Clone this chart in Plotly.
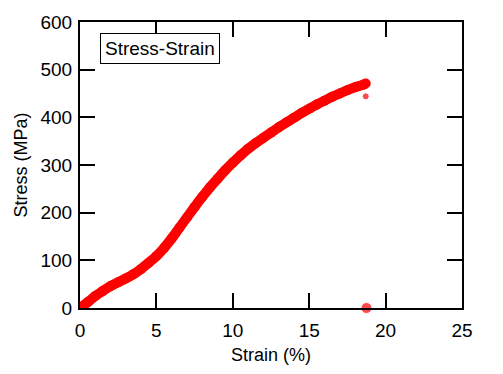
import plotly.graph_objects as go

strain = [0, 0.5, 1, 1.5, 2, 2.5, 3, 3.5, 4, 4.5, 5, 5.5, 6, 6.5, 7, 7.5, 8, 8.5, 9, 9.5,
          10, 10.5, 11, 11.5, 12, 12.5, 13, 13.5, 14, 14.5, 15, 15.5, 16, 16.5, 17, 17.5,
          18, 18.5, 18.7]
stress = [0, 12, 25, 36, 46, 54, 62, 71, 82, 95, 109, 126, 146, 168, 190, 212, 233, 253, 271, 289,
          305, 320, 334, 346, 357, 368, 379, 389, 399, 409, 418, 427, 435, 443, 450, 457,
          463, 468, 471]
tail_strain = [18.7, 18.75]
tail_stress = [444, 0]

RED = "#ff0000"
fig = go.Figure()
fig.add_trace(go.Scatter(x=strain, y=stress, mode="lines+markers",
                         line=dict(color=RED, width=10, shape="spline"),
                         marker=dict(color=RED, size=10), showlegend=False))
fig.add_trace(go.Scatter(x=tail_strain, y=tail_stress, mode="markers",
                         marker=dict(color=RED, size=[7, 11]), showlegend=False,
                         cliponaxis=False))

font = dict(family="Liberation Sans, Arial, sans-serif", color="black")
axis_common = dict(showline=True, linecolor="black", linewidth=2, mirror="ticks",
                   ticks="inside", ticklen=15, tickwidth=2, tickcolor="black",
                   showgrid=False, zeroline=False, tickfont=dict(size=19, **font),
                   title_font=dict(size=18, **font))
fig.update_xaxes(range=[0, 25], tickvals=[0, 5, 10, 15, 20, 25], title_text="Strain (%)",
                 title_standoff=9, ticklabelstandoff=4, **axis_common)
fig.update_yaxes(range=[0, 600], tickvals=[0, 100, 200, 300, 400, 500, 600],
                 title_text="Stress (MPa)", title_standoff=8, ticklabelstandoff=2, **axis_common)
fig.add_annotation(x=0.053, y=0.96, xref="paper", yref="paper", xanchor="left", yanchor="top",
                   text="Stress-Strain", showarrow=False, font=dict(size=19, **font),
                   bordercolor="black", borderwidth=1, borderpad=4, bgcolor="white")
fig.update_layout(width=503, height=374, margin=dict(l=80, r=41, t=16, b=61),
                  plot_bgcolor="white", paper_bgcolor="white")
fig.write_html("out.html", config={"displayModeBar": False},
               post_script="document.body.style.margin='0';")
